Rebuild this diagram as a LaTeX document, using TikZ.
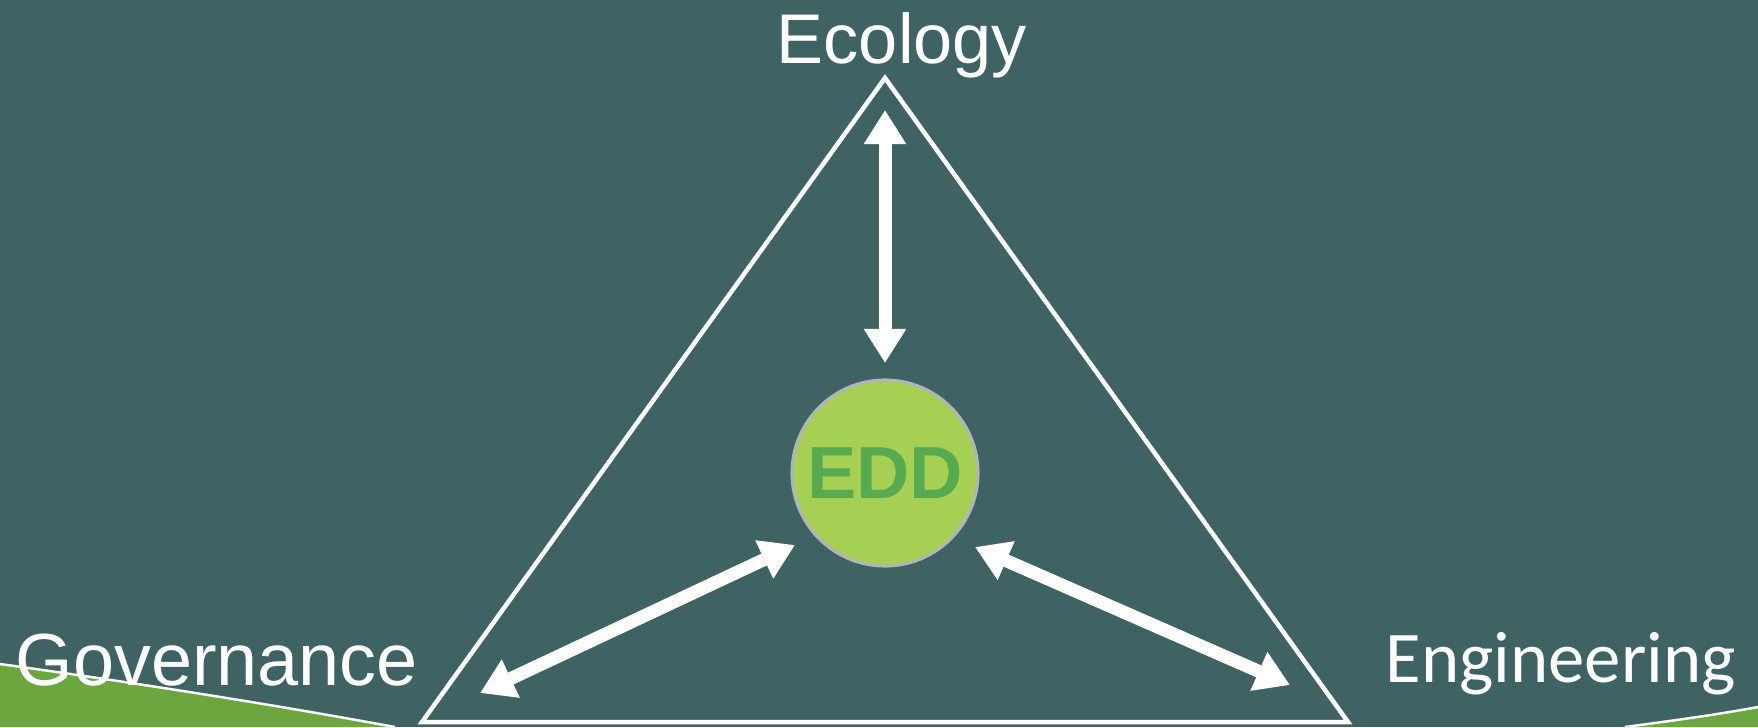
\documentclass[tikz,border=0pt]{standalone}
\usepackage{fontspec}
\setmainfont{Liberation Sans}
\newfontfamily\calfont{Carlito}
\usetikzlibrary{calc}
\usetikzlibrary{positioning}
\usetikzlibrary{arrows.meta}

\definecolor{slate}{RGB}{63,99,99}
\definecolor{leaf}{RGB}{108,166,62}
\definecolor{lime}{RGB}{166,208,84}
\definecolor{eddgreen}{RGB}{88,170,80}
\definecolor{rim}{RGB}{178,180,188}

\begin{document}
\begin{tikzpicture}[x=0.01cm, y=-0.01cm, line join=miter,
        edge/.style={draw=white, line width=0.045cm},
        biarrow/.style={draw=white, line width=0.13cm,
            {Triangle[width=0.4cm, length=0.34cm]}-{Triangle[width=0.4cm, length=0.34cm]}},
        label/.style={text=white, inner sep=0pt, font=\fontsize{20}{24}\selectfont}]
            % background and green corners
            \fill [slate] (0,0) rectangle (1758,727);
            \useasboundingbox (0,0) rectangle (1758,727);
            \fill [leaf] (0,664) .. controls (130,682) and (270,704) .. (395,727) -- (0,727) -- cycle;
            \draw [white, line width=0.7pt] (0,664) .. controls (130,682) and (270,704) .. (395,727);
            \fill [leaf] (1625,727) .. controls (1670,721) and (1715,715) .. (1758,707) -- (1758,727) -- cycle;
            \draw [white, line width=0.7pt] (1625,727) .. controls (1670,721) and (1715,715) .. (1758,707);

            \coordinate (eco) at (885,78);
            \coordinate (gov) at (422,722);
            \coordinate (eng) at (1348,722);

            \draw [edge] (eco) -- (gov) -- (eng) -- cycle;

            \node [circle, fill=lime, draw=rim, line width=0.03cm, minimum size=1.86cm, inner sep=0pt,
                text=eddgreen, font=\fontsize{21}{25}\selectfont\bfseries] (edd) at (885,473) {EDD};

            \coordinate (ecoEnd) at (885,110);
            \coordinate (ecoTip) at (885,363);
            \coordinate (govEnd) at (480,693);
            \coordinate (govTip) at (795,545);
            \coordinate (engEnd) at (1290,685);
            \coordinate (engTip) at (975,547);

            \draw [biarrow] (ecoEnd) -- (ecoTip);
            \draw [biarrow] (govEnd) -- (govTip);
            \draw [biarrow] (engEnd) -- (engTip);

            \node [label, anchor=base] (ecology) at (902,63) {Ecology};
            \node [label, anchor=base west, font=\fontsize{21}{25}\selectfont] (governance) at (15,685) {Governance};
            \node [label, anchor=base west, font=\calfont\fontsize{20.7}{25}\selectfont] (engineering) at (1385,682) {Engineering};
        \end{tikzpicture}
\end{document}
